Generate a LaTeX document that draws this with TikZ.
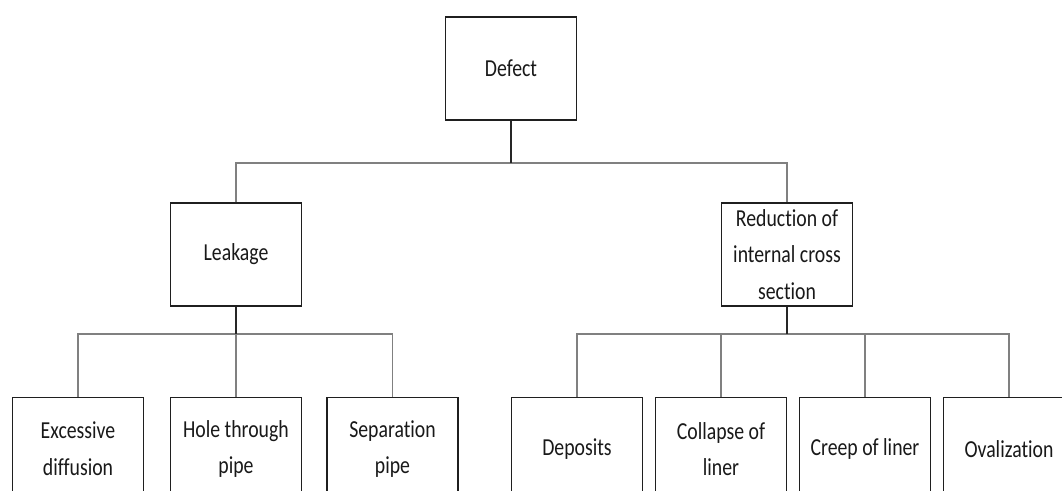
\documentclass[tikz,border=0pt]{standalone}
\usepackage{fontspec}
\setmainfont{Carlito}[FakeStretch=0.81,Ligatures=NoCommon]
\begin{document}
\begin{tikzpicture}[x=0.75pt,y=-0.75pt,
  box/.style={draw=black!88, line width=1pt, minimum width=98.25pt, minimum height=77.25pt,
    inner sep=0pt, align=center, text=black!90, fill=white,
    font=\fontsize{18.3}{27.5}\selectfont},
  stem/.style={draw=black!85, line width=1pt},
  branch/.style={draw=black!50, line width=1pt}]
\useasboundingbox (0,0) rectangle (1062,491);
\clip (0,0) rectangle (1062,491);
% level 1
\node[box] (defect) at (511,68.5) {Defect};
% level 2
\node[box] (leakage) at (236,254.5) {Leakage};
\node[box] (reduction) at (787,254.5) {Reduction of\\internal cross\\section};
% level 3
\node[box] (excessive) at (78,449) {Excessive\\diffusion};
\node[box] (hole) at (236,449) {Hole through\\pipe};
\node[box] (separation) at (392.5,449) {Separation\\pipe};
\node[box] (deposits) at (577,449) {Deposits};
\node[box] (collapse) at (721,449) {Collapse of\\liner};
\node[box] (creep) at (865,449) {Creep of liner};
\node[box] (ovalization) at (1009,449) {Ovalization};
% bus coordinates
\coordinate (b1) at (511,163);
\coordinate (b2) at (236,334);
\coordinate (b3) at (787,334);
% connectors
\draw[branch] (leakage.north) |- (b1) -| (reduction.north);
\draw[stem] (defect.south) -- (b1);
\draw[branch] (excessive.north) |- (b2) -| (separation.north);
\draw[branch] (hole.north) -- (b2);
\draw[stem] (leakage.south) -- (b2);
\draw[branch] (deposits.north) |- (b3) -| (ovalization.north);
\draw[branch] (collapse.north) |- (b3);
\draw[branch] (creep.north) |- (b3);
\draw[stem] (reduction.south) -- (b3);
\end{tikzpicture}
\end{document}
